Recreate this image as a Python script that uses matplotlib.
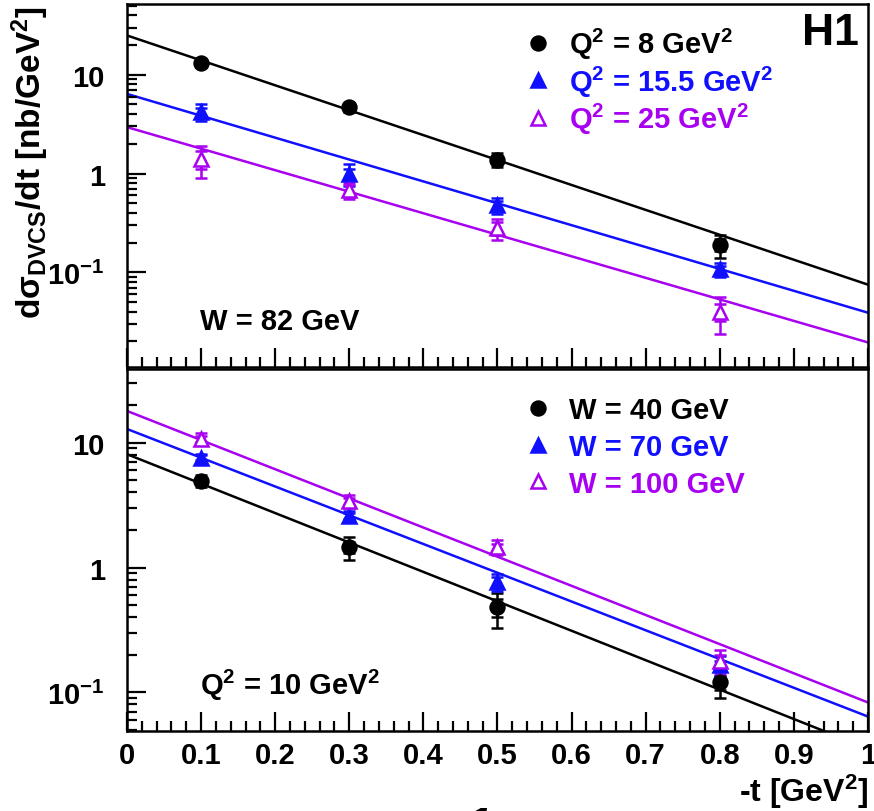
import numpy as np
import matplotlib
matplotlib.use("Agg")
from matplotlib import pyplot as plt
from matplotlib.ticker import FixedLocator, FixedFormatter, MultipleLocator, LogLocator, NullFormatter

plt.rcParams['font.family'] = ['Liberation Sans', 'DejaVu Sans']
plt.rcParams['font.weight'] = 'bold'
plt.rcParams['mathtext.fontset'] = 'custom'
plt.rcParams['mathtext.rm'] = 'Liberation Sans:bold'
plt.rcParams['mathtext.bf'] = 'Liberation Sans:bold'
plt.rcParams['mathtext.it'] = 'Liberation Sans:bold:italic'
plt.rcParams['mathtext.sf'] = 'Liberation Sans:bold'
plt.rcParams['mathtext.default'] = 'rm'

t_vals = [0.1, 0.3, 0.5, 0.8]

# top panel: W = 82 GeV, different Q2
q2_labels = ['Q$^{2}$ = 8 GeV$^{2}$', 'Q$^{2}$ = 15.5 GeV$^{2}$', 'Q$^{2}$ = 25 GeV$^{2}$']
q2_vals = [[13.3, 4.7, 1.38, 0.19],
           [4.2, 1.0, 0.48, 0.107],
           [1.4, 0.68, 0.28, 0.040]]
q2_stat = [[0.8, 0.3, 0.12, 0.025],
           [0.4, 0.12, 0.05, 0.01],
           [0.3, 0.08, 0.04, 0.008]]
q2_tot = [[1.3, 0.5, 0.22, 0.05],
          [0.8, 0.25, 0.09, 0.018],
          [0.5, 0.13, 0.07, 0.016]]
q2_fit_t0 = [25.0, 6.4, 2.95]
q2_fit_t1 = [0.075, 0.039, 0.0195]

# bottom panel: Q2 = 10 GeV2, different W
w_labels = ['W = 40 GeV', 'W = 70 GeV', 'W = 100 GeV']
w_vals = [[4.96, 1.45, 0.48, 0.12],
          [7.6, 2.6, 0.77, 0.165],
          [10.8, 3.4, 1.45, 0.18]]
w_stat = [[0.3, 0.15, 0.08, 0.015],
          [0.35, 0.15, 0.07, 0.015],
          [0.6, 0.2, 0.1, 0.02]]
w_tot = [[0.55, 0.3, 0.15, 0.03],
         [0.6, 0.25, 0.12, 0.03],
         [1.2, 0.4, 0.2, 0.04]]
w_fit_t0 = [8.1, 12.9, 18.0]
w_fit_t1 = [0.0355, 0.064, 0.083]

colors = ['black', '#1010ff', '#a800f0']
markers = ['o', '^', '^']
filled = [True, True, False]


def draw_panel(ax, vals, stat, tot, fit0, fit1, labels, ylim, leg_y, leg_sp):
    handles = []
    for i in range(3):
        c = colors[i]
        ax.plot([0, 1], [fit0[i], fit1[i]], color=c, lw=1.8, zorder=1)
        ax.errorbar(t_vals, vals[i], yerr=tot[i], fmt='none', ecolor=c,
                    elinewidth=1.8, capsize=4, capthick=1.8, zorder=2)
        ax.errorbar(t_vals, vals[i], yerr=stat[i], fmt='none', ecolor=c,
                    elinewidth=1.8, capsize=4, capthick=1.8, zorder=2)
        h, = ax.plot(t_vals, vals[i], linestyle='none', marker=markers[i],
                     markersize=10, markeredgewidth=1.8, color=c,
                     markerfacecolor=c if filled[i] else 'white', zorder=3,
                     label=labels[i])
        handles.append(h)
    ax.set_yscale('log')
    ax.set_xlim(0, 1)
    ax.set_ylim(*ylim)
    ax.yaxis.set_major_locator(FixedLocator([0.1, 1, 10]))
    ax.yaxis.set_major_formatter(FixedFormatter(['10$^{-1}$', '1', '10']))
    ax.yaxis.set_minor_locator(LogLocator(base=10, subs=np.arange(2, 10), numticks=20))
    ax.yaxis.set_minor_formatter(NullFormatter())
    ax.xaxis.set_major_locator(MultipleLocator(0.1))
    ax.xaxis.set_minor_locator(MultipleLocator(0.02))
    ax.tick_params(which='both', direction='in', top=False, right=False, width=1.6,
                   labelsize=21)
    ax.tick_params(which='major', length=14)
    ax.tick_params(which='minor', length=7)
    ax.tick_params(axis='x', which='major', pad=7)
    ax.tick_params(axis='y', which='major', pad=16)
    for s in ax.spines.values():
        s.set_linewidth(1.8)
    leg = ax.legend(handles=handles, loc='upper left', bbox_to_anchor=(0.5, leg_y),
                    frameon=False, fontsize=21, labelcolor=colors,
                    handlelength=1.0, handletextpad=0.55, labelspacing=leg_sp)
    for h in leg.legend_handles:
        h.set_markersize(10)
    return ax


fig = plt.figure(figsize=(8.74, 8.12), dpi=100)
ax1 = fig.add_axes([0.1453, 0.5468, 0.8478, 0.4470])
ax2 = fig.add_axes([0.1453, 0.0985, 0.8478, 0.4458])

draw_panel(ax1, q2_vals, q2_stat, q2_tot, q2_fit_t0, q2_fit_t1, q2_labels,
           (0.011, 52), 1.012, 0.08)
draw_panel(ax2, w_vals, w_stat, w_tot, w_fit_t0, w_fit_t1, w_labels,
           (0.049, 39), 0.998, 0.3)
ax1.tick_params(labelbottom=False)


def xfmt(v, pos):
    return '%g' % round(v, 1)


ax2.xaxis.set_major_formatter(matplotlib.ticker.FuncFormatter(xfmt))

ax1.text(0.098, 0.127, 'W = 82 GeV', transform=ax1.transAxes, fontsize=21,
         va='center', ha='left')
ax2.text(0.098, 0.13, 'Q$^{2}$ = 10 GeV$^{2}$', transform=ax2.transAxes, fontsize=21,
         va='center', ha='left')
ax1.text(0.988, 0.922, 'H1', transform=ax1.transAxes, fontsize=32,
         va='center', ha='right')

fig.text(0.035, 0.992, r'd$\sigma_{\rm DVCS}$/dt [nb/GeV$^{2}$]', rotation=90,
         fontsize=24, va='top', ha='center')
fig.text(0.993, 0.025, '-t [GeV$^{2}$]', fontsize=23, va='center', ha='right')
fig.text(0.548, -0.046, '1', fontsize=30, style='italic', family='DejaVu Serif',
         va='bottom', ha='center')

fig.savefig('out.png', dpi=100)
